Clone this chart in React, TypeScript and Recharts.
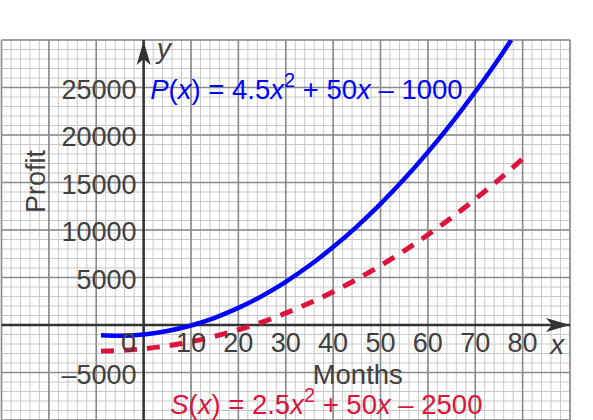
import { LineChart, Line, XAxis, YAxis, ReferenceLine, ReferenceDot } from 'recharts';

// readings: months vs profit
const pMonths = [-9, -5, 0, 5, 10, 15, 20, 25, 30, 35, 40, 45, 50, 55, 60, 65, 70, 75, 77.6];
const pProfit = [-1090, -1140, -1000, -640, -50, 760, 1800, 3060, 4550, 6260, 8200, 10360, 12750, 15360, 18200, 21260, 24550, 28060, 30000];

const sMonths = [-9, -5, 0, 5, 10, 15, 20, 25, 30, 35, 40, 45, 50, 55, 60, 65, 70, 75, 80];
const sProfit = [-2750, -2690, -2500, -2190, -1750, -1190, -500, 310, 1250, 2310, 3500, 4810, 6250, 7810, 9500, 11310, 13250, 15310, 17500];

const xTickLabels = [0, 10, 20, 30, 40, 50, 60, 70, 80];
const yTickLabels = [-5000, 5000, 10000, 15000, 20000, 25000];

const xMajor = [-30, -20, -10, 0, 10, 20, 30, 40, 50, 60, 70, 80, 90];
const yMajor = [-10000, -5000, 0, 5000, 10000, 15000, 20000, 25000, 30000];

const xMinor: number[] = [];
for (let v = -30; v <= 90; v += 2) xMinor.push(v);
const yMinor: number[] = [];
for (let v = -10000; v <= 30000; v += 1000) yMinor.push(v);

const pData = pMonths.map((m, i) => ({ x: m, y: pProfit[i] }));
const sData = sMonths.map((m, i) => ({ x: m, y: sProfit[i] }));

const FONT = "'Liberation Sans', Arial, sans-serif";
const INK = '#404040';
const BLUE = '#0000ff';
const RED = '#dc143c';

const fmt = (v: number) => (v < 0 ? '\u2013' + Math.abs(v) : String(v));

function Equation({ cx, cy, name, a, c, color }: any) {
  return (
    <text x={cx} y={cy} fill={color} fontSize={27.5} fontFamily={FONT}>
      <tspan fontStyle="italic">{name}</tspan>(<tspan fontStyle="italic">x</tspan>) = {a}
      <tspan fontStyle="italic">x</tspan>
      <tspan dy={-12} fontSize={20}>2</tspan>
      <tspan dy={12}> + 50</tspan>
      <tspan fontStyle="italic">x</tspan> {'\u2013'} {c}
    </text>
  );
}

export default function App() {
  return (
    <div style={{ position: 'absolute', left: 0, top: 0, width: 593, height: 420, background: '#fff', overflow: 'hidden' }}>
      <LineChart width={593} height={420} margin={{ top: 40, right: 23, bottom: 0, left: 1.5 }}>
        <XAxis type="number" dataKey="x" domain={[-30, 90]} hide allowDataOverflow />
        <YAxis type="number" dataKey="y" domain={[-10000, 30000]} hide allowDataOverflow />

        {xMinor.map((v) => (
          <ReferenceLine key={'xm' + v} x={v} stroke="#c8c8c8" strokeWidth={1} ifOverflow="visible" />
        ))}
        {yMinor.map((v) => (
          <ReferenceLine key={'ym' + v} y={v} stroke="#c8c8c8" strokeWidth={1} ifOverflow="visible" />
        ))}
        {xMajor.map((v) => (
          <ReferenceLine key={'xM' + v} x={v} stroke="#8a8a8a" strokeWidth={1.6} ifOverflow="visible" />
        ))}
        {yMajor.map((v) => (
          <ReferenceLine key={'yM' + v} y={v} stroke="#8a8a8a" strokeWidth={1.6} ifOverflow="visible" />
        ))}

        <ReferenceLine y={0} stroke="#333" strokeWidth={2.5} ifOverflow="visible" />
        <ReferenceLine x={0} stroke="#333" strokeWidth={2.5} ifOverflow="visible" />

        {xTickLabels.map((v) => (
          <ReferenceDot
            key={'xt' + v}
            x={v}
            y={0}
            ifOverflow="visible"
            shape={(p: any) => (
              <text x={v === 0 ? p.cx - 15 : p.cx} y={p.cy + 27} textAnchor="middle" fill={INK} fontSize={27} fontFamily={FONT}>
                {fmt(v)}
              </text>
            )}
          />
        ))}
        {yTickLabels.map((v) => (
          <ReferenceDot
            key={'yt' + v}
            x={0}
            y={v}
            ifOverflow="visible"
            shape={(p: any) => (
              <text x={p.cx - 7} y={p.cy + 11} textAnchor="end" fill={INK} fontSize={27} fontFamily={FONT}>
                {fmt(v)}
              </text>
            )}
          />
        ))}

        <Line data={sData} dataKey="y" type="monotone" stroke={RED} strokeWidth={5} strokeDasharray="13 10" dot={false} isAnimationActive={false} />
        <Line data={pData} dataKey="y" type="monotone" stroke={BLUE} strokeWidth={4.5} dot={false} isAnimationActive={false} />

        <ReferenceDot
          x={90}
          y={0}
          ifOverflow="visible"
          shape={(p: any) => (
            <path d={`M${p.cx},${p.cy} L${p.cx - 24},${p.cy - 7} L${p.cx - 18},${p.cy} L${p.cx - 24},${p.cy + 7} Z`} fill="#333" />
          )}
        />
        <ReferenceDot
          x={0}
          y={30000}
          ifOverflow="visible"
          shape={(p: any) => (
            <path d={`M${p.cx},${p.cy + 1} L${p.cx - 7},${p.cy + 25} L${p.cx},${p.cy + 19} L${p.cx + 7},${p.cy + 25} Z`} fill="#333" />
          )}
        />

        <ReferenceDot
          x={2.8}
          y={28100}
          ifOverflow="visible"
          shape={(p: any) => (
            <text x={p.cx} y={p.cy} fill={INK} fontSize={28} fontStyle="italic" fontFamily={FONT}>y</text>
          )}
        />
        <ReferenceDot
          x={87.3}
          y={-3050}
          ifOverflow="visible"
          shape={(p: any) => (
            <text x={p.cx} y={p.cy} textAnchor="middle" fill={INK} fontSize={28} fontStyle="italic" fontFamily={FONT}>x</text>
          )}
        />
        <ReferenceDot
          x={45.2}
          y={-6200}
          ifOverflow="visible"
          shape={(p: any) => (
            <text x={p.cx} y={p.cy} textAnchor="middle" fill={INK} fontSize={27.5} fontFamily={FONT}>Months</text>
          )}
        />
        <ReferenceDot
          x={-22.7}
          y={15100}
          ifOverflow="visible"
          shape={(p: any) => (
            <text x={p.cx} y={p.cy} transform={`rotate(-90 ${p.cx} ${p.cy})`} dy={9} textAnchor="middle" fill={INK} fontSize={27} fontFamily={FONT}>Profit</text>
          )}
        />
        <ReferenceDot
          x={1.4}
          y={23800}
          ifOverflow="visible"
          shape={(p: any) => <Equation cx={p.cx} cy={p.cy} name="P" a="4.5" c="1000" color={BLUE} />}
        />
        <ReferenceDot
          x={5.6}
          y={-9370}
          ifOverflow="visible"
          shape={(p: any) => <Equation cx={p.cx} cy={p.cy} name="S" a="2.5" c="2500" color={RED} />}
        />
      </LineChart>
    </div>
  );
}
